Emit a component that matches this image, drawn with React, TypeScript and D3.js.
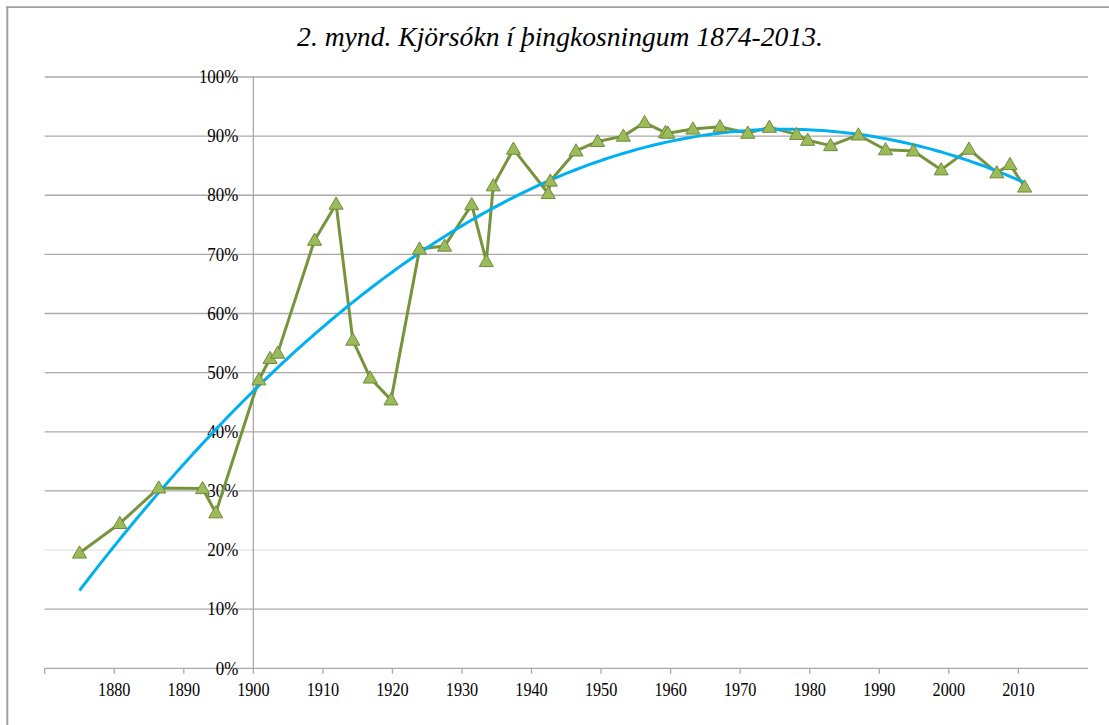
import React from "react";
import * as d3 from "d3";

const TITLE = "2. mynd. Kjörsókn í þingkosningum 1874-2013.";

// decimal year positions of elections (as placed on the chart)
const years = [
  1875.0, 1880.8, 1886.4, 1892.7, 1894.6, 1900.8, 1902.4, 1903.5, 1908.8, 1911.9,
  1914.3, 1916.8, 1919.8, 1923.9, 1927.5, 1931.4, 1933.5, 1934.5, 1937.4, 1942.4,
  1942.7, 1946.4, 1949.5, 1953.2, 1956.25, 1959.25, 1959.6, 1963.2, 1967.1, 1971.1,
  1974.2, 1978.1, 1979.7, 1983.0, 1987.0, 1990.9, 1994.9, 1998.9, 2002.9, 2006.9,
  2008.8, 2010.9,
];
// turnout in percent
const turnout = [
  19.5, 24.5, 30.5, 30.4, 26.3, 48.8, 52.4, 53.3, 72.4, 78.5,
  55.5, 49.1, 45.4, 70.9, 71.4, 78.4, 68.8, 81.6, 87.8, 80.3,
  82.4, 87.5, 89.1, 90.0, 92.3, 90.6, 90.5, 91.2, 91.6, 90.5,
  91.5, 90.3, 89.3, 88.4, 90.2, 87.7, 87.5, 84.3, 87.8, 83.8,
  85.2, 81.4,
];
const yTicks = [0, 10, 20, 30, 40, 50, 60, 70, 80, 90, 100];
const xTicks = [1870, 1880, 1890, 1900, 1910, 1920, 1930, 1940, 1950, 1960, 1970, 1980, 1990, 2000, 2010];
const xLabels = [1880, 1890, 1900, 1910, 1920, 1930, 1940, 1950, 1960, 1970, 1980, 1990, 2000, 2010];

function quadFit(xs: number[], ys: number[]) {
  const x0 = 1940;
  let s0 = 0, s1 = 0, s2 = 0, s3 = 0, s4 = 0, t0 = 0, t1 = 0, t2 = 0;
  xs.forEach((xv, i) => {
    const x = xv - x0;
    const y = ys[i];
    s0 += 1; s1 += x; s2 += x * x; s3 += x * x * x; s4 += x * x * x * x;
    t0 += y; t1 += x * y; t2 += x * x * y;
  });
  const M = [
    [s0, s1, s2, t0],
    [s1, s2, s3, t1],
    [s2, s3, s4, t2],
  ];
  for (let i = 0; i < 3; i++) {
    let p = i;
    for (let r = i + 1; r < 3; r++) if (Math.abs(M[r][i]) > Math.abs(M[p][i])) p = r;
    [M[i], M[p]] = [M[p], M[i]];
    for (let r = 0; r < 3; r++) {
      if (r === i) continue;
      const f = M[r][i] / M[i][i];
      for (let c = i; c < 4; c++) M[r][c] -= f * M[i][c];
    }
  }
  const a = M[0][3] / M[0][0], b = M[1][3] / M[1][1], c = M[2][3] / M[2][2];
  return (xv: number) => {
    const x = xv - x0;
    return a + b * x + c * x * x;
  };
}

export default function App() {
  const W = 1109, H = 725;
  const x = d3.scaleLinear().domain([1870, 2020]).range([44.7, 1087.9]);
  const y = d3.scaleLinear().domain([0, 100]).range([668.3, 77]);
  const pts = years.map((yr, i) => [yr, turnout[i]] as [number, number]);
  const line = d3.line<[number, number]>().x((d) => x(d[0])).y((d) => y(d[1]));
  const f = quadFit(years, turnout);
  const x0 = years[0], x1 = years[years.length - 1];
  const trend: [number, number][] = d3.range(0, 201).map((i) => {
    const xv = x0 + ((x1 - x0) * i) / 200;
    return [xv, f(xv)];
  });
  const tri = d3.symbol().type(d3.symbolTriangle).size(86)() as string;
  const gridColor = "#a9a9a9";
  const font = '"Liberation Serif", Tinos, "Times New Roman", "DejaVu Serif", serif';

  return (
    <div style={{ position: "absolute", left: 0, top: 0, width: W, height: H, overflow: "hidden" }}>
      <svg width={W} height={H} style={{ display: "block", background: "#fff" }}>
        {/* outer frame */}
        <line x1={6} x2={W} y1={7.2} y2={7.2} stroke="#a0a0a0" strokeWidth={1.8} />
        <line x1={7.3} x2={7.3} y1={6.3} y2={H} stroke="#a0a0a0" strokeWidth={2} />
        {/* title */}
        <text
          x={560}
          y={46}
          textAnchor="middle"
          style={{ fontFamily: font, fontStyle: "italic", fontSize: 27.6 }}
          fill="#000"
        >
          {TITLE}
        </text>
        {/* gridlines */}
        {yTicks.filter((t) => t > 0).map((t) => (
          <line
            key={t}
            x1={x(1870)}
            x2={x(2020)}
            y1={y(t)}
            y2={y(t)}
            stroke={t === 20 ? "#e2e2e2" : gridColor}
            strokeWidth={1.3}
          />
        ))}
        {/* x axis */}
        <line x1={x(1870)} x2={x(2020)} y1={y(0)} y2={y(0)} stroke={gridColor} strokeWidth={1.3} />
        {xTicks.map((t) => (
          <line key={t} x1={x(t)} x2={x(t)} y1={y(0)} y2={y(0) + 5.5} stroke={gridColor} strokeWidth={1.3} />
        ))}
        {xLabels.map((t) => (
          <text
            key={t}
            transform={`translate(${x(t)},${y(0) + 27.5}) scale(0.9,1)`}
            textAnchor="middle"
            style={{ fontFamily: font, fontSize: 18 }}
            fill="#000"
          >
            {t}
          </text>
        ))}
        {/* y axis */}
        <line x1={x(1900)} x2={x(1900)} y1={y(0)} y2={y(100)} stroke={gridColor} strokeWidth={1.3} />
        {yTicks.map((t) => (
          <text
            key={t}
            transform={`translate(${x(1900) - 15},${y(t) + 6.2}) scale(0.94,1)`}
            textAnchor="end"
            style={{ fontFamily: font, fontSize: 18 }}
            fill="#000"
          >
            {t + "%"}
          </text>
        ))}
        {/* data line */}
        <path d={line(pts) || ""} fill="none" stroke="#77933C" strokeWidth={3} strokeLinejoin="round" />
        {/* trend line */}
        <path d={line(trend) || ""} fill="none" stroke="#00B0F0" strokeWidth={3} />
        {/* markers */}
        {pts.map((p, i) => (
          <path
            key={i}
            d={tri}
            transform={`translate(${x(p[0])},${y(p[1]) + 1})`}
            fill="#9BBB59"
            stroke="#71893F"
            strokeWidth={1}
          />
        ))}
      </svg>
    </div>
  );
}
